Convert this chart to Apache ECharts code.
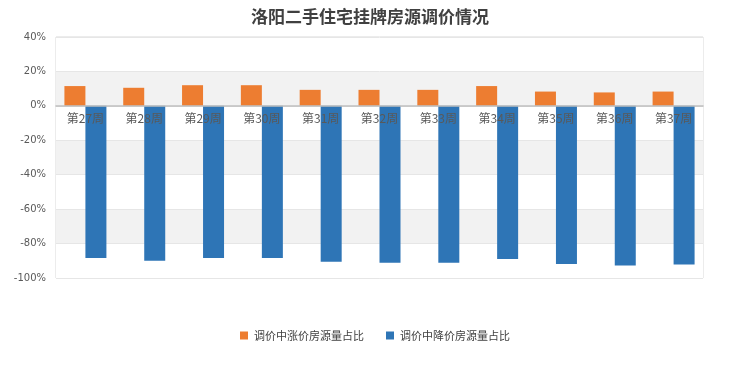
<!DOCTYPE html>
<html><head><meta charset="utf-8">
<script src="https://cdn.jsdelivr.net/npm/echarts@6/dist/echarts.min.js"></script>
<style>html,body{margin:0;padding:0;background:#fff}#c{width:740px;height:370px}</style>
</head><body><div id="c"></div>
<script>
var categories = ['第27周','第28周','第29周','第30周','第31周','第32周','第33周','第34周','第35周','第36周','第37周'];
var upShare = [11.5, 10.5, 12.0, 12.0, 9.3, 9.3, 9.3, 11.5, 8.3, 7.8, 8.3];
var downShare = [-88.4, -90.0, -88.4, -88.4, -90.6, -91.2, -91.2, -89.0, -91.8, -92.7, -92.2];
var seriesNames = ['调价中涨价房源量占比','调价中降价房源量占比'];
var chart = echarts.init(document.getElementById('c'));
var font = '"Noto Sans CJK SC", "DejaVu Sans", sans-serif';
chart.setOption({
  animation: false,
  title: {text: '洛阳二手住宅挂牌房源调价情况', left: 'center', top: 3,
    textStyle: {fontFamily: font, fontSize: 17, fontWeight: 'bold', color: '#404040'}},
  legend: {bottom: 24, left: 235, itemWidth: 8, itemHeight: 8, itemGap: 22, icon: 'rect',
    textStyle: {fontFamily: font, fontSize: 11, color: '#404040', padding: [0, 0, 0, 1]}},
  grid: {left: 56, right: 37, top: 37, bottom: 92, show: true, borderColor: '#d9d9d9', borderWidth: 1},
  xAxis: {type: 'category', data: categories, z: 10,
    axisLine: {onZero: true, lineStyle: {color: '#bfbfbf', width: 1.5}},
    axisTick: {show: false},
    axisLabel: {fontFamily: font, fontSize: 12, color: '#595959', margin: -166}},
  yAxis: {type: 'value', min: -100, max: 40, interval: 20,
    axisLabel: {formatter: '{value}%', fontFamily: '"DejaVu Sans", sans-serif', fontSize: 10, color: '#595959', margin: 10},
    axisLine: {show: false}, axisTick: {show: false},
    splitLine: {lineStyle: {color: '#e6e6e6'}},
    splitArea: {show: true, areaStyle: {color: ['#ffffff', '#f2f2f2']}}},
  series: [
    {name: seriesNames[0], type: 'bar', data: upShare, barWidth: 21, barGap: '0%',
      itemStyle: {color: '#ed7d31'}},
    {name: seriesNames[1], type: 'bar', data: downShare, barWidth: 21,
      itemStyle: {color: '#2e75b6'}}
  ]
});
</script></body></html>
